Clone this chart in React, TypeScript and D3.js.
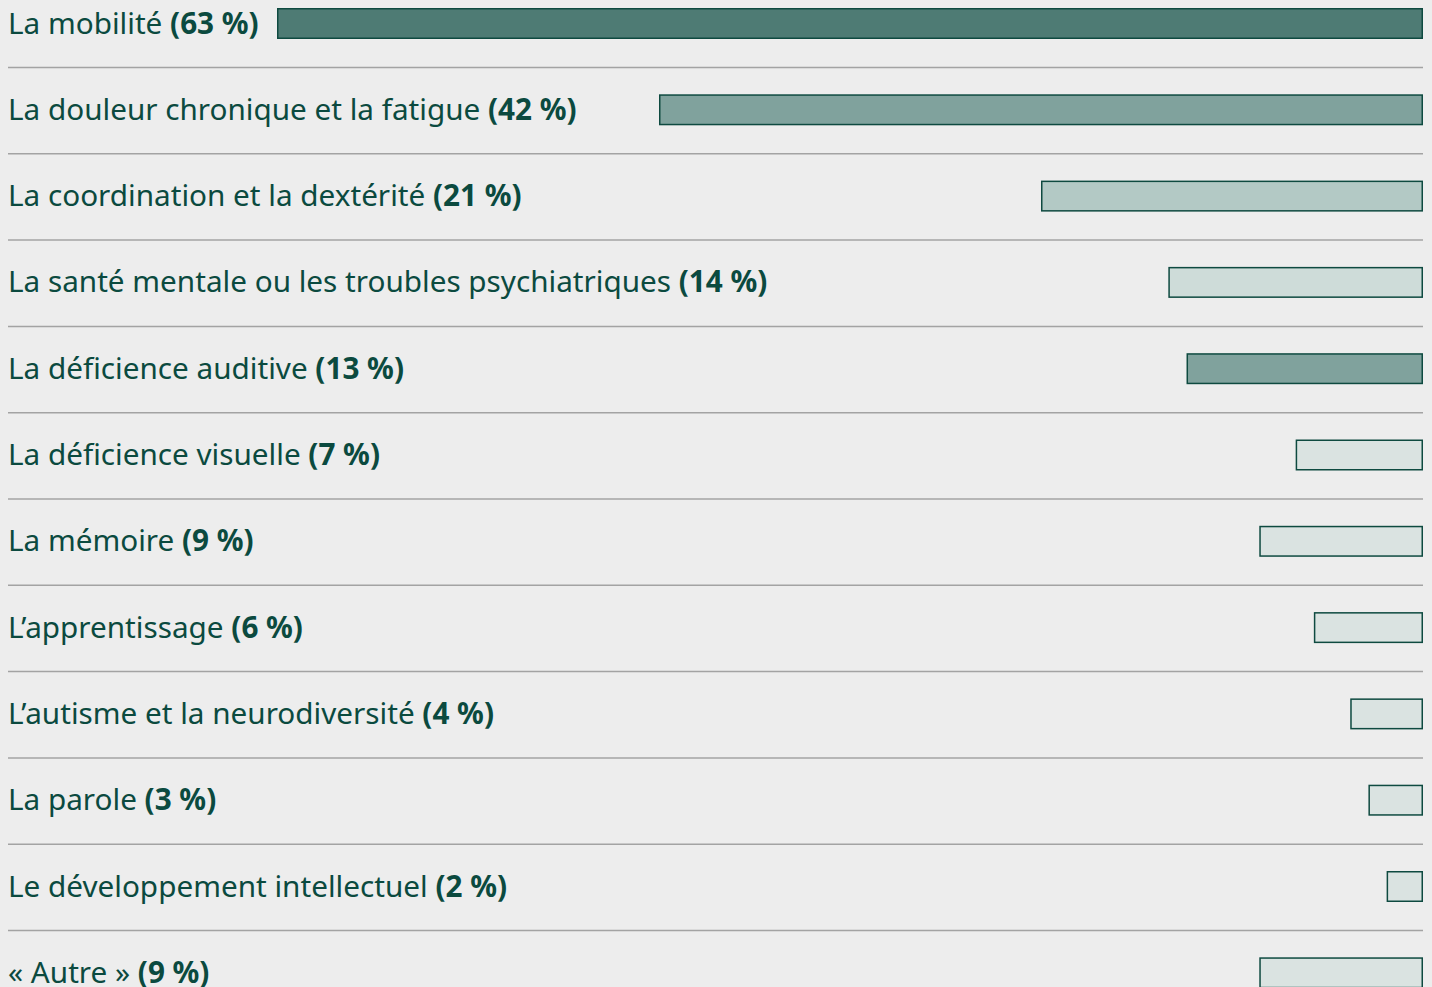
import React, { useEffect, useRef } from "react";
import * as d3 from "d3";

const categories = [
  "La mobilité",
  "La douleur chronique et la fatigue",
  "La coordination et la dextérité",
  "La santé mentale ou les troubles psychiatriques",
  "La déficience auditive",
  "La déficience visuelle",
  "La mémoire",
  "L’apprentissage",
  "L’autisme et la neurodiversité",
  "La parole",
  "Le développement intellectuel",
  "« Autre »",
];
const values = [63, 42, 21, 14, 13, 7, 9, 6, 4, 3, 2, 9];
const valueLabels = ["(63 %)", "(42 %)", "(21 %)", "(14 %)", "(13 %)", "(7 %)", "(9 %)", "(6 %)", "(4 %)", "(3 %)", "(2 %)", "(9 %)"];
const fills = ["#4E7B74", "#80A29D", "#B3C9C5", "#CEDCD9", "#80A29D", "#DAE3E1", "#DAE3E1", "#DAE3E1", "#DAE3E1", "#DAE3E1", "#DAE3E1", "#DAE3E1"];

const W = 1432;
const H = 987;
const LEFT = 8;
const RIGHT = 1423;
const TOP = 8;
const STEP = 86.3;
const BAR_H = 31;
const TEXT = "#0B4A3F";
const FONT = "'Noto Sans', sans-serif";

export default function App() {
  const ref = useRef<SVGSVGElement>(null);
  useEffect(() => {
    document.body.style.margin = "0";
    document.body.style.background = "#EDEDED";
    const svg = d3.select(ref.current);
    svg.selectAll("*").remove();
    const y = d3.scaleBand<string>().domain(categories).range([TOP, TOP + STEP * categories.length]).paddingInner(0).paddingOuter(0);
    const x = d3.scaleLinear().domain([0, 63]).range([0, 1146]);

    svg.append("rect").attr("width", W).attr("height", H).attr("fill", "#EDEDED");

    const rows = svg.selectAll("g.row").data(categories).join("g").attr("class", "row")
      .attr("transform", (d) => `translate(0,${y(d)})`);

    rows.filter((_, i) => i < categories.length - 1)
      .append("line")
      .attr("x1", LEFT).attr("x2", RIGHT)
      .attr("y1", 59.5).attr("y2", 59.5)
      .attr("stroke", "#A3A3A3").attr("stroke-width", 1.5);

    rows.append("rect")
      .attr("x", (_, i) => RIGHT - x(values[i]) + 0.75)
      .attr("y", 0.75)
      .attr("width", (_, i) => x(values[i]) - 1.5)
      .attr("height", BAR_H - 1.5)
      .attr("fill", (_, i) => fills[i])
      .attr("stroke", "#0E4A40").attr("stroke-width", 1.5);

    const t = rows.append("text")
      .attr("x", LEFT)
      .attr("y", 25.5)
      .attr("fill", TEXT)
      .style("font-family", FONT)
      .style("font-size", "29.7px");
    t.append("tspan").text((d) => d + " ");
    t.append("tspan").attr("font-weight", 700).text((_, i) => valueLabels[i]);
  }, []);
  return <svg ref={ref} width={W} height={H} style={{ display: "block" }} />;
}
